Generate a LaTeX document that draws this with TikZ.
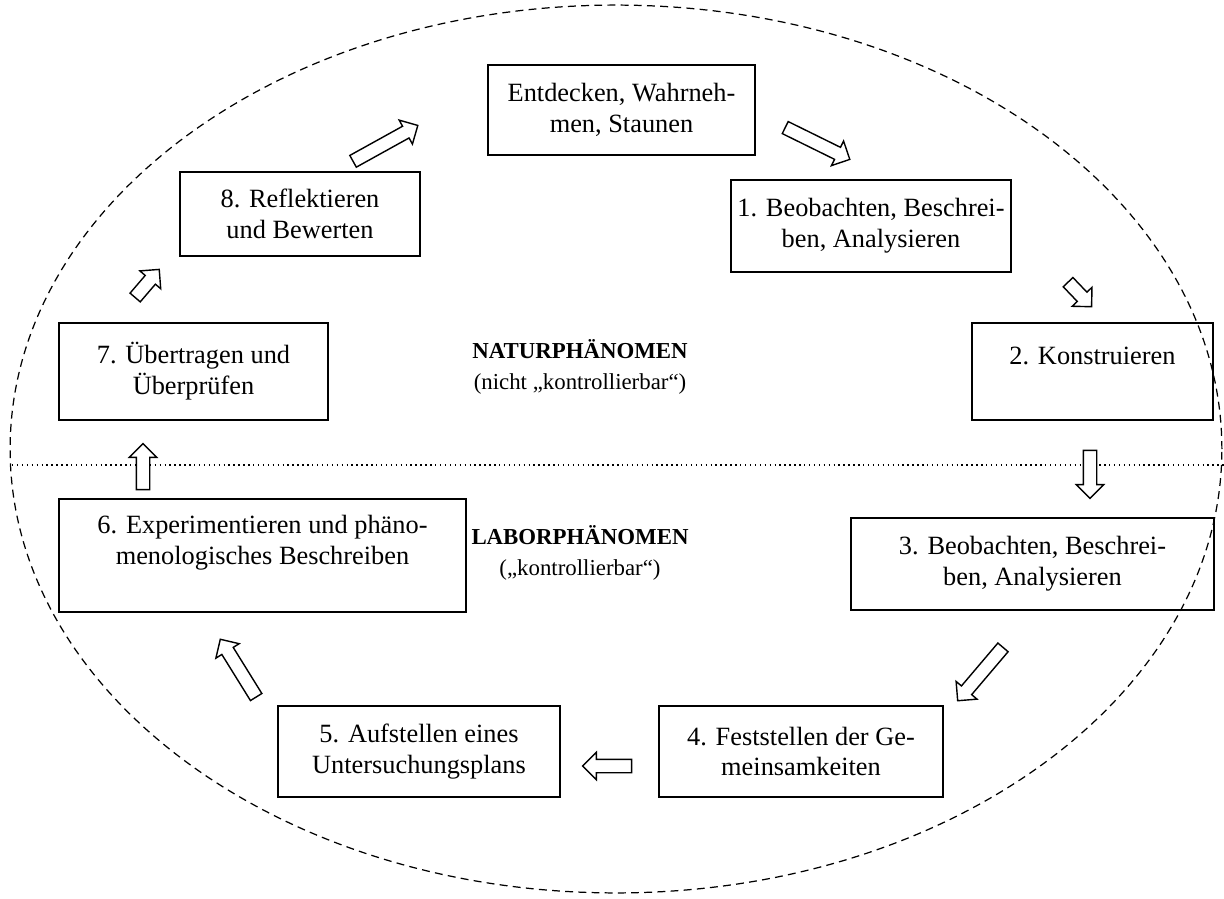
\documentclass[tikz,border=0pt]{standalone}
\usepackage{fontspec}
\setmainfont{Liberation Serif}
\usetikzlibrary{shapes.arrows}

\begin{document}
\begin{tikzpicture}[x=0.02cm, y=-0.02cm,
    font=\fontsize{15pt}{17.5pt}\selectfont,
    stepbox/.style={rectangle, draw, line width=1pt, inner sep=0pt, align=center},
    phase/.style={align=center, font=\fontsize{13pt}{17.5pt}\selectfont},
    blockarrow/.style={single arrow, draw, line width=0.8pt, fill=white, inner xsep=0pt,
        inner ysep=0.12cm, single arrow head extend=0.14cm, sloped, allow upside down}]
    \useasboundingbox (0,0) rectangle (1224,899);

    % Outer cycle and divider
    \draw[dash pattern=on 4.5pt off 3pt, line width=0.7pt] (616,449) ellipse [x radius=12.12cm, y radius=8.88cm];
    \draw[dotted, line width=0.8pt] (12,465) -- (1224,465);

    % Steps
    \node[stepbox, minimum width=5.34cm, minimum height=1.80cm] (box0) at (621.5,110) {Entdecken, Wahrneh-\\men, Staunen};
    \node[stepbox, minimum width=5.60cm, minimum height=1.84cm] (box1) at (871,226) {1. Beobachten, Beschrei-\\ben, Analysieren};
    \node[stepbox, minimum width=4.82cm, minimum height=1.94cm] (box2) at (1092.5,371.5) {2. Konstruieren\\\mbox{}};
    \node[stepbox, minimum width=7.26cm, minimum height=1.84cm] (box3) at (1032.5,564) {3. Beobachten, Beschrei-\\ben, Analysieren};
    \node[stepbox, minimum width=5.68cm, minimum height=1.82cm] (box4) at (801,751.5) {4. Feststellen der Ge-\\meinsamkeiten};
    \node[stepbox, minimum width=5.64cm, minimum height=1.82cm] (box5) at (419,751.5) {5. Aufstellen eines\\Untersuchungsplans};
    \node[stepbox, minimum width=8.14cm, minimum height=2.26cm] (box6) at (262.5,555.5) {6. Experimentieren und phäno-\\menologisches Beschreiben\\\mbox{}};
    \node[stepbox, minimum width=5.38cm, minimum height=1.94cm] (box7) at (193.5,371.5) {7. Übertragen und\\Überprüfen};
    \node[stepbox, minimum width=4.80cm, minimum height=1.68cm] (box8) at (300,214) {8. Reflektieren\\und Bewerten};

    % Region labels
    \node[phase] (natur) at (580,367) {\textbf{NATURPHÄNOMEN}\\(nicht „kontrollierbar“)};
    \node[phase] (labor) at (580,553) {\textbf{LABORPHÄNOMEN}\\(„kontrollierbar“)};

    % Block arrows
    \path (782,126) -- node[blockarrow, minimum height=1.44cm] (a1) {} (847,158);
    \path (1066,280) -- node[blockarrow, minimum height=0.68cm] (a2) {} (1089,304);
    \path (1090,447) -- node[blockarrow, minimum height=0.96cm] (a3) {} (1090,495);
    \path (1005,645) -- node[blockarrow, minimum height=1.40cm] (a4) {} (960,698);
    \path (635,766) -- node[blockarrow, minimum height=0.98cm] (a5) {} (586,766);
    \path (258,700) -- node[blockarrow, minimum height=1.36cm] (a6) {} (222,642);
    \path (143,493) -- node[blockarrow, minimum height=0.92cm] (a7) {} (143,447);
    \path (133,300) -- node[blockarrow, minimum height=0.74cm] (a8) {} (157,272);
    \path (350,163) -- node[blockarrow, minimum height=1.48cm] (a9) {} (415,127);
\end{tikzpicture}
\end{document}
